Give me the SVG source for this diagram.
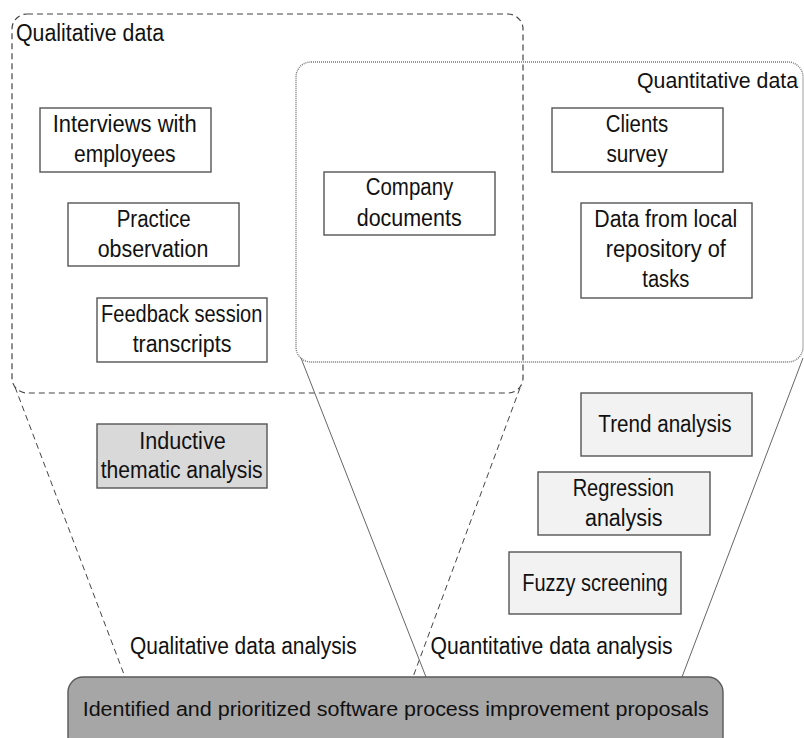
<svg xmlns="http://www.w3.org/2000/svg" width="804" height="738" viewBox="0 0 804 738">
<style>
text{font-family:"Liberation Sans",Arial,sans-serif;font-size:23px;fill:#111;}
.c{text-anchor:middle;}
.box{fill:#fff;stroke:#555;stroke-width:1.4;}
.dark{fill:#d9d9d9;stroke:#555;stroke-width:1.4;}
.light{fill:#f2f2f2;stroke:#555;stroke-width:1.4;}
.qual{fill:none;stroke:#444;stroke-width:1.2;stroke-dasharray:6 4;}
.quan{fill:none;stroke:#777;stroke-width:1.4;stroke-dasharray:1 1;}
.fq{fill:none;stroke:#444;stroke-width:1;stroke-dasharray:6 4;}
.fn{fill:none;stroke:#666;stroke-width:1;}
</style>
<rect width="804" height="738" fill="#fff"/>
<g id="qualitative-data">
<rect class="qual" x="12" y="14" width="511" height="379" rx="15"/>
<text x="16" y="41" textLength="148" lengthAdjust="spacingAndGlyphs">Qualitative data</text>
</g>
<g id="quantitative-data">
<rect class="quan" x="296" y="62" width="507" height="300" rx="15"/>
<text x="798" y="88" text-anchor="end" style="font-size:21.3px">Quantitative data</text>
</g>
<g id="connectors">
<line class="fq" x1="15" y1="387" x2="125" y2="677"/>
<line class="fq" x1="520" y1="388" x2="413" y2="677"/>
<line class="fn" x1="301" y1="358" x2="426" y2="677"/>
<line class="fn" x1="803" y1="358" x2="682" y2="677"/>
</g>
<g id="interviews">
<rect class="box" x="40" y="108" width="171" height="64"/>
<text class="c" x="124.7" y="131.5" textLength="144" lengthAdjust="spacingAndGlyphs">Interviews with</text>
<text class="c" x="124.8" y="161.5" textLength="101.7" lengthAdjust="spacingAndGlyphs">employees</text>
</g>
<g id="practice">
<rect class="box" x="68" y="203" width="171" height="63"/>
<text class="c" x="153.7" y="227" textLength="74" lengthAdjust="spacingAndGlyphs">Practice</text>
<text class="c" x="153" y="257" textLength="110.7" lengthAdjust="spacingAndGlyphs">observation</text>
</g>
<g id="feedback">
<rect class="box" x="97" y="298" width="170" height="64"/>
<text class="c" x="181.7" y="322" textLength="161.3" lengthAdjust="spacingAndGlyphs">Feedback session</text>
<text class="c" x="182" y="352" textLength="98.7" lengthAdjust="spacingAndGlyphs">transcripts</text>
</g>
<g id="company">
<rect class="box" x="324" y="172" width="171" height="63"/>
<text class="c" x="409.5" y="195" textLength="87.6" lengthAdjust="spacingAndGlyphs">Company</text>
<text class="c" x="409.2" y="225.5" textLength="105" lengthAdjust="spacingAndGlyphs">documents</text>
</g>
<g id="clients">
<rect class="box" x="552" y="108" width="171" height="64"/>
<text class="c" x="637" y="131.5" textLength="62.3" lengthAdjust="spacingAndGlyphs">Clients</text>
<text class="c" x="637" y="161.5" textLength="61" lengthAdjust="spacingAndGlyphs">survey</text>
</g>
<g id="repository">
<rect class="box" x="581" y="203" width="171" height="95"/>
<text class="c" x="665.8" y="227" textLength="143" lengthAdjust="spacingAndGlyphs">Data from local</text>
<text class="c" x="665.8" y="257" textLength="120.3" lengthAdjust="spacingAndGlyphs">repository of</text>
<text class="c" x="665.8" y="287" textLength="47" lengthAdjust="spacingAndGlyphs">tasks</text>
</g>
<g id="inductive">
<rect class="dark" x="97" y="424" width="170" height="64"/>
<text class="c" x="182.5" y="449" textLength="86.4" lengthAdjust="spacingAndGlyphs">Inductive</text>
<text class="c" x="181.7" y="478" textLength="162" lengthAdjust="spacingAndGlyphs">thematic analysis</text>
</g>
<g id="trend">
<rect class="light" x="581" y="393" width="171" height="63"/>
<text class="c" x="665" y="432" textLength="133.3" lengthAdjust="spacingAndGlyphs">Trend analysis</text>
</g>
<g id="regression">
<rect class="light" x="538" y="472" width="172" height="63"/>
<text class="c" x="623.3" y="496" textLength="101.3" lengthAdjust="spacingAndGlyphs">Regression</text>
<text class="c" x="623.8" y="526" textLength="77.7" lengthAdjust="spacingAndGlyphs">analysis</text>
</g>
<g id="fuzzy">
<rect class="light" x="509" y="552" width="172" height="62"/>
<text class="c" x="595" y="591" textLength="145.4" lengthAdjust="spacingAndGlyphs">Fuzzy screening</text>
</g>
<g id="labels">
<text x="130" y="654" textLength="226.7" lengthAdjust="spacingAndGlyphs">Qualitative data analysis</text>
<text x="430.5" y="654" textLength="242" lengthAdjust="spacingAndGlyphs">Quantitative data analysis</text>
</g>
<g id="proposals">
<rect x="68" y="677" width="655" height="75" rx="15" fill="#a6a6a6" stroke="#595959" stroke-width="1.4"/>
<text x="82.7" y="716" style="font-size:20px" textLength="626" lengthAdjust="spacingAndGlyphs">Identified and prioritized software process improvement proposals</text>
</g>
</svg>
